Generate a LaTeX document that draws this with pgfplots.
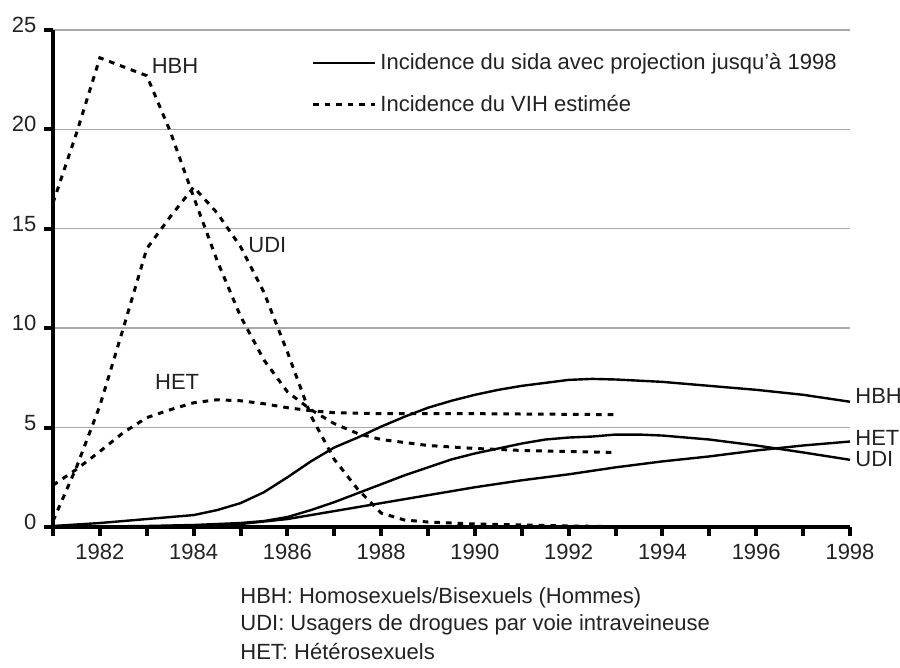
\documentclass[border=0pt]{standalone}
\usepackage{fontspec}
\setmainfont{Liberation Sans}
\usepackage{pgfplots}
\pgfplotsset{compat=1.18}

\definecolor{txt}{HTML}{222222}
\definecolor{gridc}{HTML}{A8A8B0}

\begin{document}
\fontsize{11}{13.2}\selectfont
\begin{tikzpicture}
\begin{axis}[
    scale only axis,
    width=398.5pt, height=248.5pt,
    xmin=1981, xmax=1998, ymin=0, ymax=25,
    axis x line=bottom, axis y line=left,
    axis line style={-, line width=2pt, black},
    tick align=outside,
    major tick length=4.5pt, minor tick length=4.5pt,
    every tick/.style={line width=2pt, black},
    xtick={1982,1984,...,1998},
    minor xtick={1981,1983,...,1997},
    ytick={0,5,...,25},
    ymajorgrids,
    major grid style={gridc, line width=0.7pt},
    /pgf/number format/assume math mode=true,
    xticklabel style={/pgf/number format/set thousands separator={}, text=txt},
    yticklabel style={text=txt, yshift=2.5pt},
    tick label style={font=\fontsize{11}{13.2}\selectfont},
    clip=false,
    legend style={draw=none, fill=none, at={(rel axis cs:0.3162,0.97)}, anchor=north west,
        font=\fontsize{11}{13.2}\selectfont, text=txt, row sep=7pt},
    legend cell align=left,
    legend image code/.code={\draw[#1] (0pt,0pt) -- (23.5pt,0pt); \path (0pt,0pt) -- (31pt,0pt);},
]
% Incidence du sida (solid) - HBH
\addplot[black, line width=1.2pt] coordinates {
(1981,0.05) (1982,0.2) (1983,0.4) (1984,0.6) (1984.5,0.85) (1985,1.2) (1985.5,1.75)
(1986,2.5) (1986.5,3.3) (1987,4.0) (1987.5,4.5) (1988,5.05) (1988.5,5.55) (1989,6.0)
(1989.5,6.35) (1990,6.65) (1990.5,6.9) (1991,7.1) (1991.5,7.25) (1992,7.4) (1992.5,7.45)
(1993,7.42) (1994,7.3) (1995,7.1) (1996,6.9) (1997,6.65) (1998,6.3)
};
\addlegendentry{Incidence du sida avec projection jusqu’à 1998}
% Incidence du VIH (dashed) - HBH
\addplot[black, line width=1.5pt, dash pattern=on 2.8pt off 3pt] coordinates {
(1981,16.3) (1981.5,19.8) (1982,23.6) (1983,22.7) (1983.5,19.9) (1984,16.6) (1984.5,13.4)
(1985,10.6) (1985.5,8.4) (1986,6.8) (1986.5,5.9) (1987,5.2) (1987.5,4.7) (1988,4.4)
(1989,4.1) (1990,3.95) (1991,3.85) (1992,3.8) (1993,3.75)
};
\addlegendentry{Incidence du VIH estimée}

% sida - UDI
\addplot[black, line width=1.2pt, forget plot] coordinates {
(1981,0) (1983,0.05) (1984,0.1) (1985,0.2) (1985.5,0.3) (1986,0.5) (1986.5,0.85)
(1987,1.25) (1987.5,1.7) (1988,2.15) (1988.5,2.6) (1989,3.0) (1989.5,3.4) (1990,3.7)
(1990.5,3.95) (1991,4.2) (1991.5,4.4) (1992,4.5) (1992.5,4.55) (1993,4.65) (1993.5,4.65)
(1994,4.6) (1995,4.4) (1996,4.1) (1997,3.75) (1998,3.38)
};
% sida - HET
\addplot[black, line width=1.2pt, forget plot] coordinates {
(1981,0) (1984,0.05) (1985,0.15) (1986,0.4) (1986.5,0.6) (1987,0.8) (1988,1.2)
(1989,1.6) (1990,2.0) (1991,2.35) (1992,2.65) (1993,3.0) (1994,3.3) (1995,3.55)
(1996,3.85) (1997,4.1) (1998,4.3)
};
% VIH - UDI
\addplot[black, line width=1.5pt, dash pattern=on 2.8pt off 3pt, forget plot] coordinates {
(1981,0.3) (1981.5,3.0) (1982,6.1) (1982.5,10.0) (1983,14.0) (1983.5,15.6) (1984,17.1)
(1984.5,15.8) (1985,14.1) (1985.5,11.8) (1986,8.8) (1986.5,5.6) (1987,3.4) (1987.5,1.9)
(1988,0.7) (1988.5,0.35) (1989,0.25) (1990,0.15) (1991,0.1) (1992,0.05) (1993,0.02)
};
% VIH - HET
\addplot[black, line width=1.5pt, dash pattern=on 2.8pt off 3pt, forget plot] coordinates {
(1981,2.1) (1981.5,2.9) (1982,3.8) (1982.5,4.75) (1983,5.5) (1983.5,5.9) (1984,6.25)
(1984.5,6.4) (1985,6.35) (1985.5,6.2) (1986,6.0) (1986.5,5.85) (1987,5.75) (1988,5.7)
(1990,5.7) (1993,5.65)
};

\node[anchor=west, inner sep=0, text=txt] at (axis cs:1983.1,23.2) {HBH};
\node[anchor=west, inner sep=0, text=txt] at (axis cs:1985.16,14.2) {UDI};
\node[anchor=west, inner sep=0, text=txt] at (axis cs:1983.17,7.3) {HET};
\node[anchor=west, inner sep=0, text=txt, xshift=2.5pt] at (axis cs:1998,6.57) {HBH};
\node[anchor=west, inner sep=0, text=txt, xshift=2.5pt] at (axis cs:1998,4.5) {HET};
\node[anchor=west, inner sep=0, text=txt, xshift=2.5pt] at (axis cs:1998,3.4) {UDI};

\node[anchor=west, inner sep=0, text=txt] at ([yshift=-35.5pt]rel axis cs:0.2346,0) {HBH: Homosexuels/Bisexuels (Hommes)};
\node[anchor=west, inner sep=0, text=txt] at ([yshift=-49pt]rel axis cs:0.2346,0) {UDI: Usagers de drogues par voie intraveineuse};
\node[anchor=west, inner sep=0, text=txt] at ([yshift=-62.5pt]rel axis cs:0.2346,0) {HET: Hétérosexuels};
\end{axis}
\pgfresetboundingbox
\path (-26.5pt,-70.5pt) rectangle (423.5pt,263.5pt);
\end{tikzpicture}
\end{document}
